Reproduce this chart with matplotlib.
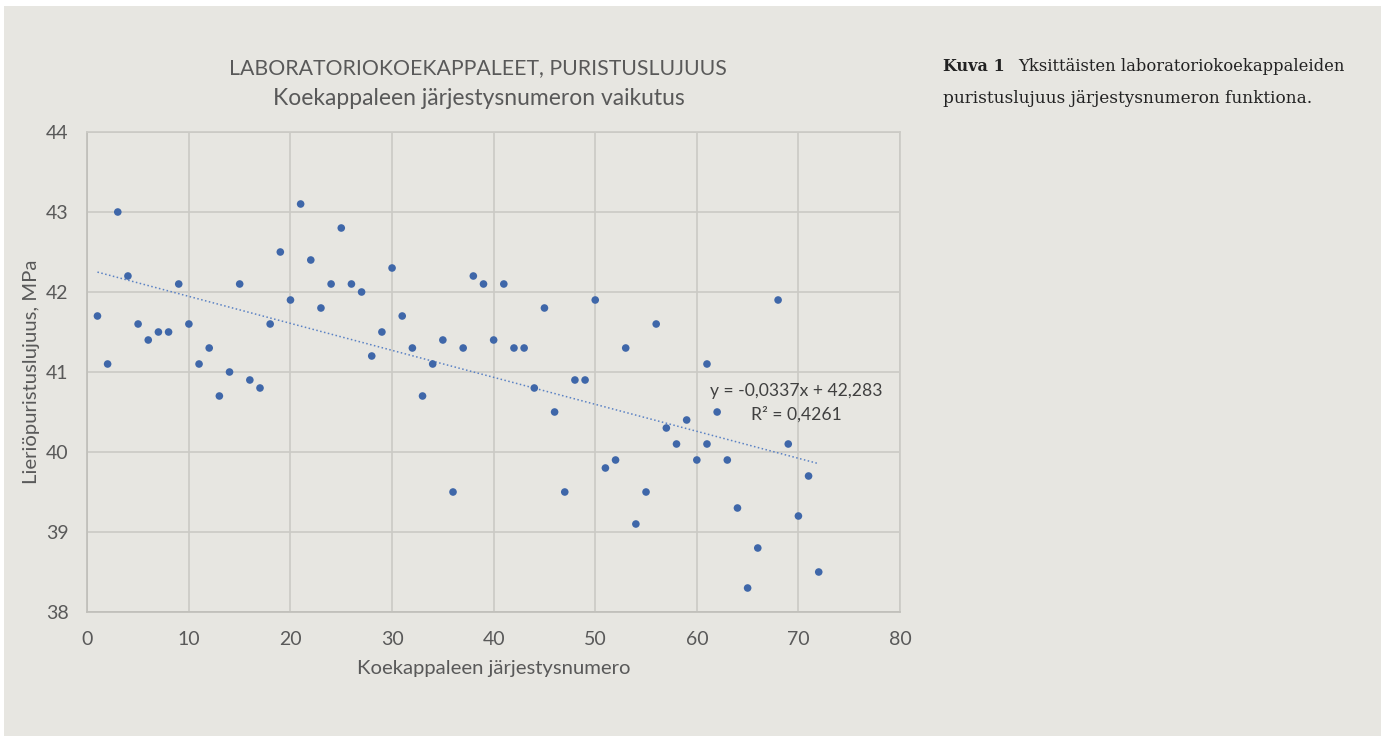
import numpy as np
import matplotlib
matplotlib.use("Agg")
import matplotlib.pyplot as plt
from matplotlib.patches import Rectangle

# koekappaleen järjestysnumero ja puristuslujuus (MPa), luettu kuvasta
numbers = [1, 2, 3, 4, 5, 6, 7, 8, 9, 10, 11, 12, 13, 14, 15, 16, 17, 18,
           19, 20, 21, 22, 23, 24, 25, 26, 27, 28, 29, 30, 31, 32, 33, 34,
           35, 36, 37, 38, 39, 40, 41, 42, 43, 44, 45, 46, 47, 48, 49, 50,
           51, 52, 53, 54, 55, 56, 57, 58, 59, 60, 61, 61, 62, 63, 64, 65,
           66, 68, 69, 70, 71, 72]
strength = [41.7, 41.1, 43.0, 42.2, 41.6, 41.4, 41.5, 41.5, 42.1, 41.6,
            41.1, 41.3, 40.7, 41.0, 42.1, 40.9, 40.8, 41.6, 42.5, 41.9,
            43.1, 42.4, 41.8, 42.1, 42.8, 42.1, 42.0, 41.2, 41.5, 42.3,
            41.7, 41.3, 40.7, 41.1, 41.4, 39.5, 41.3, 42.2, 42.1, 41.4,
            42.1, 41.3, 41.3, 40.8, 41.8, 40.5, 39.5, 40.9, 40.9, 41.9,
            39.8, 39.9, 41.3, 39.1, 39.5, 41.6, 40.3, 40.1, 40.4, 39.9,
            41.1, 40.1, 40.5, 39.9, 39.3, 38.3, 38.8, 41.9, 40.1, 39.2,
            39.7, 38.5]

x_ticks = [0, 10, 20, 30, 40, 50, 60, 70, 80]
y_ticks = [38, 39, 40, 41, 42, 43, 44]

title_1 = "LABORATORIOKOEKAPPALEET, PURISTUSLUJUUS"
title_2 = "Koekappaleen järjestysnumeron vaikutus"
equation = "y = -0,0337x + 42,283\nR² = 0,4261"

panel = "#e7e6e1"
grid = "#cbcac5"
text_gray = "#595959"
dot_blue = "#3f67a9"

W, H = 1381, 736
fig = plt.figure(figsize=(W / 100, H / 100), dpi=100, facecolor="white")
fig.patches.append(Rectangle((4 / W, 0), 1, 1 - 6 / H, transform=fig.transFigure,
                             facecolor=panel, edgecolor="none", zorder=-10))

ax = fig.add_axes([87.3 / W, 1 - 612 / H, (900 - 87.3) / W, (612 - 132) / H])
ax.set_facecolor("none")

x = np.array(numbers, dtype=float)
y = np.array(strength)
ax.scatter(x, y, s=30, color=dot_blue, edgecolors="none", zorder=3)

# lineaarinen trendiviiva
k, b = np.polyfit(x, y, 1)
xs = np.array([x.min(), x.max()])
ax.plot(xs, k * xs + b, linestyle=(0, (1, 1.6)), color="#5b82c4", linewidth=1.1, zorder=2)

ax.set_xlim(0, 80)
ax.set_ylim(38, 44)
ax.set_xticks(x_ticks)
ax.set_yticks(y_ticks)
ax.grid(True, color=grid, linewidth=1.2)
ax.set_axisbelow(True)
for s in ax.spines.values():
    s.set_color(grid)
    s.set_linewidth(1.2)
ax.spines["left"].set_color("#bfbeb9")
ax.spines["bottom"].set_color("#bfbeb9")
ax.tick_params(length=0, labelsize=14, labelcolor=text_gray)
ax.tick_params(axis="x", pad=13.5)
ax.tick_params(axis="y", pad=13.5)

ax.set_xlabel("Koekappaleen järjestysnumero", fontsize=14.6, color=text_gray,
              family="Lato", labelpad=8.5)
ax.set_ylabel("Lieriöpuristuslujuus, MPa", fontsize=14.6, color=text_gray,
              family="Lato", labelpad=4)
for lab in ax.get_xticklabels() + ax.get_yticklabels():
    lab.set_family("Lato")

ax.text(69.8, 40.62, equation, ha="center", va="center", fontsize=12.6,
        family="Lato", color="#404040", linespacing=1.55)

fig.text(478 / W, 1 - 68.5 / H, title_1, ha="center", va="center", fontsize=15.3,
         family="Lato", color=text_gray)
fig.text(479 / W, 1 - 98.5 / H, title_2, ha="center", va="center", fontsize=16.5,
         family="Lato", color=text_gray)

# kuvateksti oikealla
fig.text(943 / W, 1 - 71 / H, "Kuva 1", ha="left", va="baseline", fontsize=11.5,
         family="DejaVu Serif", weight="bold", color="#222222")
fig.text(1018 / W, 1 - 71 / H, "Yksittäisten laboratoriokoekappaleiden", ha="left",
         va="baseline", fontsize=11.8, family="DejaVu Serif", color="#222222")
fig.text(943 / W, 1 - 103 / H, "puristuslujuus järjestysnumeron funktiona.", ha="left",
         va="baseline", fontsize=12.2, family="DejaVu Serif", color="#222222")

fig.savefig("out.png", dpi=100, facecolor="white")
